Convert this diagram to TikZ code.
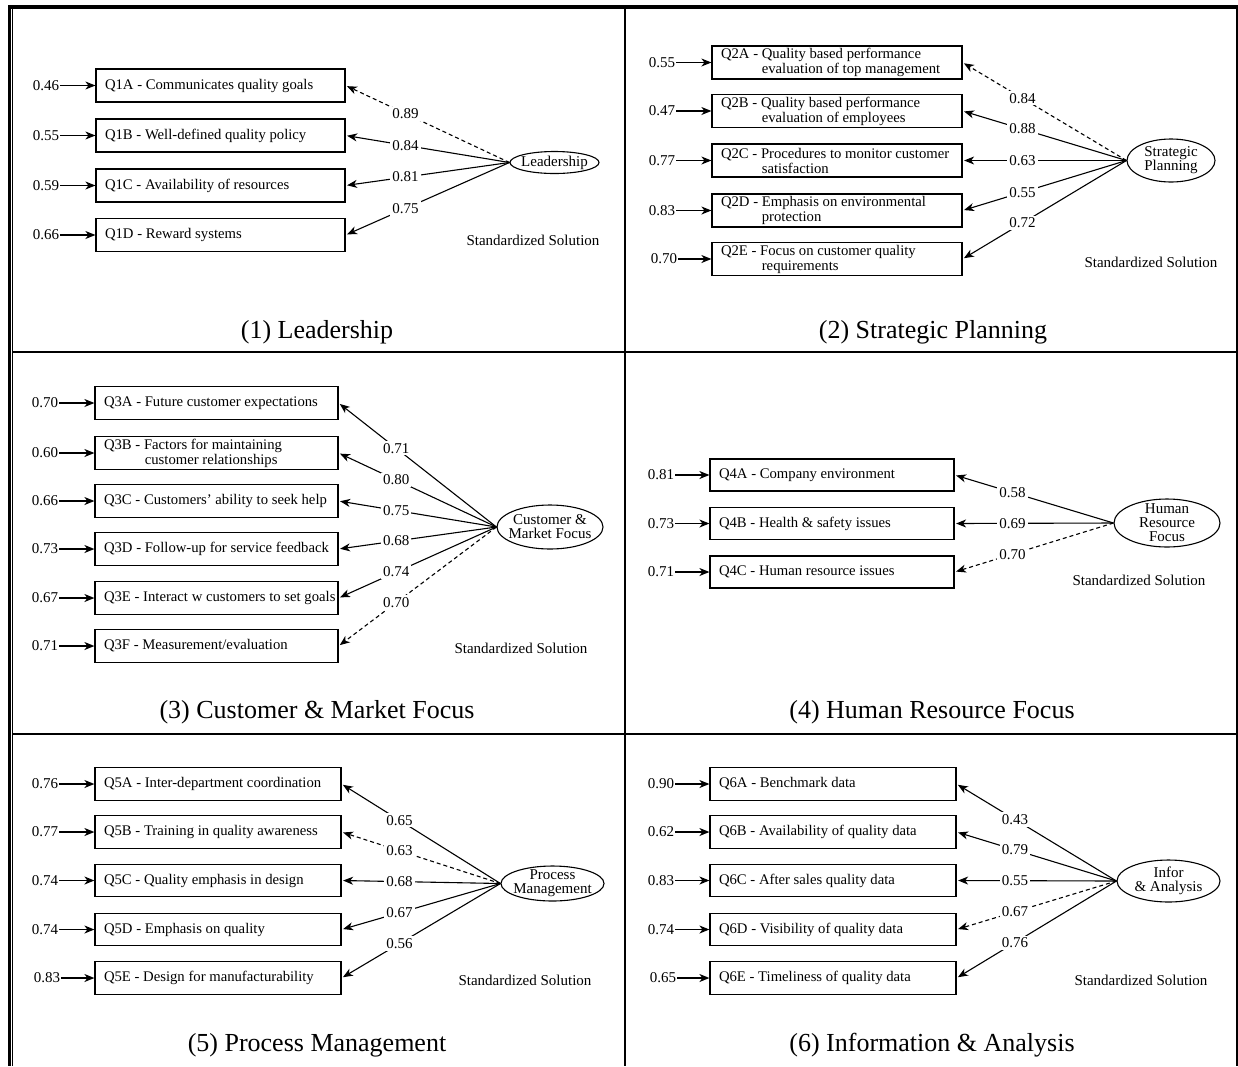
\documentclass[tikz,border=0pt]{standalone}
\usepackage{fontspec}
\setmainfont{Liberation Serif}
\usetikzlibrary{arrows.meta,positioning,shapes.geometric}
\newcommand\smallfnt{\fontsize{15}{15}\selectfont}
\newcommand\boxfnt{\fontsize{14.7}{15}\selectfont}
\newcommand\ellfnt{\fontsize{15}{14}\selectfont}
\newcommand\titlefnt{\fontsize{26}{30}\selectfont}
\newcommand\indA{\hphantom{Q2A - }}
\hfuzz=60pt
\begin{document}
\begin{tikzpicture}[x=1pt,y=-1pt,
  qbox/.style={draw, line width=1.2pt, inner xsep=9pt, inner ysep=0pt, align=flush left, font=\boxfnt},
  fac/.style={draw, ellipse, line width=1.1pt, inner sep=0pt},
  facl/.style={font=\ellfnt, align=center},
  err/.style={inner sep=1pt, font=\smallfnt},
  errarrow/.style={-{Stealth[length=10pt,width=8pt,inset=3pt]}, line width=1.3pt},
  load/.style={-{Stealth[length=10pt,width=8pt,inset=3pt]}, line width=1.1pt, shorten >=1.5pt},
  dashload/.style={load, dash pattern=on 4pt off 3pt},
  lbl/.style={fill=white, inner sep=2pt, font=\smallfnt, pos=0.635},
  note/.style={font=\smallfnt},
  ttl/.style={font=\titlefnt},
  pA/.style={qbox, text width=231pt, minimum height=33pt},
  pB/.style={qbox, text width=232pt, minimum height=33pt},
  pC/.style={qbox, text width=225pt, minimum height=32.5pt},
  pD/.style={qbox, text width=226pt, minimum height=32pt},
  pE/.style={qbox, text width=228pt, minimum height=32.5pt},
  pF/.style={qbox, text width=228pt, minimum height=32.5pt}
]
\useasboundingbox (0,0) rectangle (1238,1066);
% frame
\draw[line width=4pt] (8,7) -- (1238,7);
\draw[line width=3pt] (9,5) -- (9,1066);
\draw[line width=1.2pt] (12.6,9) -- (12.6,1066);
\draw[line width=1.5pt] (1237,5) -- (1237,1066);
\draw[line width=2pt] (625,9) -- (625,1066);
\draw[line width=2pt] (13,352) -- (1237,352);
\draw[line width=2pt] (13,734) -- (1237,734);

% ---------- Panel 1 ----------
\node[pA] (q1a) at (220.5,85.5) {\mbox{Q1A - Communicates quality goals}};
\node[pA] (q1b) at (220.5,135.5) {\mbox{Q1B - Well-defined quality policy}};
\node[pA] (q1c) at (220.5,185.5) {\mbox{Q1C - Availability of resources}};
\node[pA] (q1d) at (220.5,235) {\mbox{Q1D - Reward systems}};
\node[err, left=35pt of q1a] (e1a) {0.46};
\node[err, left=35pt of q1b] (e1b) {0.55};
\node[err, left=35pt of q1c] (e1c) {0.59};
\node[err, left=35pt of q1d] (e1d) {0.66};
\foreach \n in {a,b,c,d} \draw[errarrow] (e1\n.east) -- (q1\n.west);
\node[fac, minimum width=89pt, minimum height=22pt, label={[facl]center:Leadership}] (f1) at (554.5,162.5) {};
\draw[dashload] (f1.west) -- node[lbl]{0.89} (q1a.east);
\draw[load] (f1.west) -- node[lbl]{0.84} (q1b.east);
\draw[load] (f1.west) -- node[lbl]{0.81} (q1c.east);
\draw[load] (f1.west) -- node[lbl]{0.75} (q1d.east);
\node[note] (s1) at (533,240) {Standardized Solution};
\node[ttl] (t1) at (317,332) {(1) Leadership};

% ---------- Panel 2 ----------
\node[pB] (q2a) at (837,62.5) {\mbox{Q2A - Quality based performance}\\\indA evaluation of top management};
\node[pB] (q2b) at (837,111) {\mbox{Q2B - Quality based performance}\\\indA evaluation of employees};
\node[pB] (q2c) at (837,160.5) {\mbox{Q2C - Procedures to monitor customer}\\\indA satisfaction};
\node[pB] (q2d) at (837,210.5) {\mbox{Q2D - Emphasis on environmental}\\\indA protection};
\node[pB] (q2e) at (837,259) {\mbox{Q2E - Focus on customer quality}\\\indA requirements};
\node[err, left=35pt of q2a] (e2a) {0.55};
\node[err, left=35pt of q2b] (e2b) {0.47};
\node[err, left=35pt of q2c] (e2c) {0.77};
\node[err, left=35pt of q2d] (e2d) {0.83};
\node[err, left=33pt of q2e] (e2e) {0.70};
\foreach \n in {a,b,c,d,e} \draw[errarrow] (e2\n.east) -- (q2\n.west);
\node[fac, minimum width=88pt, minimum height=43pt, label={[facl]center:Strategic\\Planning}] (f2) at (1171,160.5) {};
\draw[dashload] (f2.west) -- node[lbl]{0.84} (q2a.east);
\draw[load] (f2.west) -- node[lbl]{0.88} (q2b.east);
\draw[load] (f2.west) -- node[lbl]{0.63} (q2c.east);
\draw[load] (f2.west) -- node[lbl]{0.55} (q2d.east);
\draw[load] (f2.west) -- node[lbl]{0.72} (q2e.east);
\node[note] (s2) at (1151,262) {Standardized Solution};
\node[ttl] (t2) at (933,332) {(2) Strategic Planning};

% ---------- Panel 3 ----------
\node[pC] (q3a) at (216.5,403) {\mbox{Q3A - Future customer expectations}};
\node[pC] (q3b) at (216.5,453) {\mbox{Q3B - Factors for maintaining}\\\indA customer relationships};
\node[pC] (q3c) at (216.5,501) {\mbox{Q3C - Customers’ ability to seek help}};
\node[pC] (q3d) at (216.5,549) {\mbox{Q3D - Follow-up for service feedback}};
\node[pC] (q3e) at (216.5,598) {\mbox{Q3E - Interact w customers to set goals}};
\node[pC] (q3f) at (216.5,646) {\mbox{Q3F - Measurement/evaluation}};
\node[err, left=35pt of q3a] (e3a) {0.70};
\node[err, left=35pt of q3b] (e3b) {0.60};
\node[err, left=35pt of q3c] (e3c) {0.66};
\node[err, left=35pt of q3d] (e3d) {0.73};
\node[err, left=35pt of q3e] (e3e) {0.67};
\node[err, left=35pt of q3f] (e3f) {0.71};
\foreach \n in {a,b,c,d,e,f} \draw[errarrow] (e3\n.east) -- (q3\n.west);
\node[fac, minimum width=106pt, minimum height=44pt, label={[facl]center:Customer \&\\Market Focus}] (f3) at (550,527) {};
\draw[load] (f3.west) -- node[lbl]{0.71} (q3a.east);
\draw[load] (f3.west) -- node[lbl]{0.80} (q3b.east);
\draw[load] (f3.west) -- node[lbl]{0.75} (q3c.east);
\draw[load] (f3.west) -- node[lbl]{0.68} (q3d.east);
\draw[load] (f3.west) -- node[lbl]{0.74} (q3e.east);
\draw[dashload] (f3.west) -- node[lbl]{0.70} (q3f.east);
\node[note] (s3) at (521,648) {Standardized Solution};
\node[ttl] (t3) at (317,712) {(3) Customer \& Market Focus};

% ---------- Panel 4 ----------
\node[pD] (q4a) at (832,475) {\mbox{Q4A - Company environment}};
\node[pD] (q4b) at (832,523.5) {\mbox{Q4B - Health \& safety issues}};
\node[pD] (q4c) at (832,572) {\mbox{Q4C - Human resource issues}};
\node[err, left=34pt of q4a] (e4a) {0.81};
\node[err, left=34pt of q4b] (e4b) {0.73};
\node[err, left=34pt of q4c] (e4c) {0.71};
\foreach \n in {a,b,c} \draw[errarrow] (e4\n.east) -- (q4\n.west);
\node[fac, minimum width=106pt, minimum height=48pt, label={[facl]center:Human\\Resource\\Focus}] (f4) at (1167,523) {};
\draw[load] (f4.west) -- node[lbl]{0.58} (q4a.east);
\draw[load] (f4.west) -- node[lbl]{0.69} (q4b.east);
\draw[dashload] (f4.west) -- node[lbl]{0.70} (q4c.east);
\node[note] (s4) at (1139,580) {Standardized Solution};
\node[ttl] (t4) at (932,712) {(4) Human Resource Focus};

% ---------- Panel 5 ----------
\node[pE] (q5a) at (218,784) {\mbox{Q5A - Inter-department coordination}};
\node[pE] (q5b) at (218,832) {\mbox{Q5B - Training in quality awareness}};
\node[pE] (q5c) at (218,880.5) {\mbox{Q5C - Quality emphasis in design}};
\node[pE] (q5d) at (218,929.5) {\mbox{Q5D - Emphasis on quality}};
\node[pE] (q5e) at (218,978) {\mbox{Q5E - Design for manufacturability}};
\node[err, left=35pt of q5a] (e5a) {0.76};
\node[err, left=35pt of q5b] (e5b) {0.77};
\node[err, left=35pt of q5c] (e5c) {0.74};
\node[err, left=35pt of q5d] (e5d) {0.74};
\node[err, left=33pt of q5e] (e5e) {0.83};
\foreach \n in {a,b,c,d,e} \draw[errarrow] (e5\n.east) -- (q5\n.west);
\node[fac, minimum width=103pt, minimum height=35pt, label={[facl]center:Process\\Management}] (f5) at (552.5,883.5) {};
\draw[load] (f5.west) -- node[lbl]{0.65} (q5a.east);
\draw[dashload] (f5.west) -- node[lbl]{0.63} (q5b.east);
\draw[load] (f5.west) -- node[lbl]{0.68} (q5c.east);
\draw[load] (f5.west) -- node[lbl]{0.67} (q5d.east);
\draw[load] (f5.west) -- node[lbl]{0.56} (q5e.east);
\node[note] (s5) at (525,980) {Standardized Solution};
\node[ttl] (t5) at (317,1045) {(5) Process Management};

% ---------- Panel 6 ----------
\node[pF] (q6a) at (833,784) {\mbox{Q6A - Benchmark data}};
\node[pF] (q6b) at (833,832) {\mbox{Q6B - Availability of quality data}};
\node[pF] (q6c) at (833,880.5) {\mbox{Q6C - After sales quality data}};
\node[pF] (q6d) at (833,929.5) {\mbox{Q6D - Visibility of quality data}};
\node[pF] (q6e) at (833,978) {\mbox{Q6E - Timeliness of quality data}};
\node[err, left=34pt of q6a] (e6a) {0.90};
\node[err, left=34pt of q6b] (e6b) {0.62};
\node[err, left=34pt of q6c] (e6c) {0.83};
\node[err, left=34pt of q6d] (e6d) {0.74};
\node[err, left=32pt of q6e] (e6e) {0.65};
\foreach \n in {a,b,c,d,e} \draw[errarrow] (e6\n.east) -- (q6\n.west);
\node[fac, minimum width=103pt, minimum height=42pt, label={[facl]center:Infor\\\& Analysis}] (f6) at (1168.5,881) {};
\draw[load] (f6.west) -- node[lbl]{0.43} (q6a.east);
\draw[load] (f6.west) -- node[lbl]{0.79} (q6b.east);
\draw[load] (f6.west) -- node[lbl]{0.55} (q6c.east);
\draw[dashload] (f6.west) -- node[lbl]{0.67} (q6d.east);
\draw[load] (f6.west) -- node[lbl]{0.76} (q6e.east);
\node[note] (s6) at (1141,980) {Standardized Solution};
\node[ttl] (t6) at (932,1045) {(6) Information \& Analysis};
\end{tikzpicture}
\end{document}
